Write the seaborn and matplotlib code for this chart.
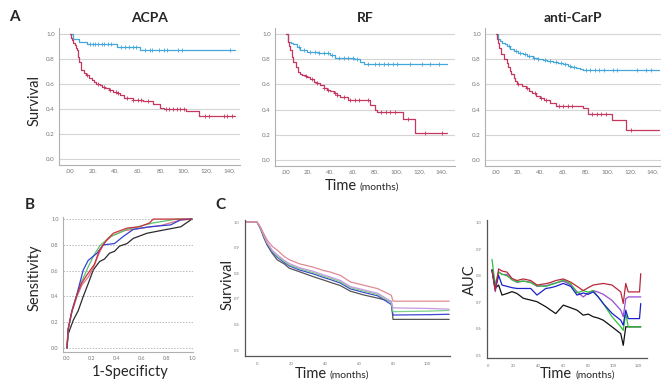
import numpy as np
import pandas as pd
import matplotlib.pyplot as plt
import seaborn as sns

# ---- Panel A: Kaplan-Meier curves (time in months, survival) ----
acpa_neg_t = [0, 3, 8, 15, 41, 61, 145]
acpa_neg_s = [1.0, 0.96, 0.935, 0.925, 0.90, 0.87, 0.87]
acpa_pos_t = [0, 1, 2, 3, 4, 5, 6, 7, 8, 10, 12, 14, 17, 19, 21, 23, 26, 28, 31, 34, 38, 41, 44, 47,
              55, 64, 73, 79, 82, 102, 113, 145]
acpa_pos_s = [1.0, 0.97, 0.95, 0.93, 0.91, 0.89, 0.87, 0.82, 0.78, 0.71, 0.69, 0.67, 0.645, 0.63,
              0.615, 0.60, 0.59, 0.575, 0.565, 0.55, 0.54, 0.53, 0.515, 0.49, 0.475, 0.465, 0.44,
              0.41, 0.40, 0.38, 0.34, 0.34]
acpa_neg_cens = [18, 20, 22, 25, 28, 30, 33, 36, 45, 48, 52, 55, 58, 66, 70, 72, 78, 82, 85, 95, 98, 140]
acpa_pos_cens = [15, 25, 30, 35, 40, 42, 50, 55, 60, 62, 68, 84, 87, 90, 94, 96, 100, 118, 122, 135, 138, 142]

rf_neg_t = [0, 2, 5, 7, 10, 13, 19, 30, 40, 44, 61, 67, 70, 145]
rf_neg_s = [1.0, 0.94, 0.93, 0.92, 0.895, 0.873, 0.855, 0.848, 0.838, 0.81, 0.80, 0.78, 0.762, 0.762]
rf_pos_t = [0, 2, 3, 4, 6, 7, 9, 11, 13, 15, 17, 19, 22, 25, 28, 31, 34, 37, 40, 43, 46, 49, 56, 70,
            76, 80, 82, 105, 116, 145]
rf_pos_s = [1.0, 0.94, 0.91, 0.873, 0.82, 0.78, 0.74, 0.70, 0.685, 0.675, 0.665, 0.656, 0.64, 0.62,
            0.61, 0.595, 0.575, 0.556, 0.545, 0.53, 0.515, 0.503, 0.48, 0.476, 0.437, 0.397, 0.384,
            0.323, 0.216, 0.216]
rf_neg_cens = [12, 16, 22, 26, 30, 34, 38, 42, 48, 52, 56, 60, 64, 74, 80, 84, 88, 92, 96, 100, 112, 122, 130, 138]
rf_pos_cens = [18, 24, 28, 34, 38, 44, 46, 52, 58, 62, 66, 74, 86, 90, 94, 98, 110, 125, 140]

cp_neg_t = [0, 2, 4, 6, 8, 10, 13, 16, 20, 24, 28, 33, 38, 42, 46, 51, 55, 60, 64, 67, 71, 75, 78, 145]
cp_neg_s = [1.0, 0.96, 0.945, 0.93, 0.92, 0.907, 0.885, 0.867, 0.853, 0.84, 0.828, 0.813, 0.803, 0.795,
            0.787, 0.779, 0.77, 0.76, 0.75, 0.739, 0.732, 0.725, 0.712, 0.712]
cp_pos_t = [0, 1, 2, 3, 5, 7, 10, 11, 13, 14, 16, 17, 19, 23, 27, 30, 32, 36, 39, 43, 48, 54, 69, 78,
            82, 103, 116, 145]
cp_pos_s = [1.0, 0.965, 0.933, 0.89, 0.84, 0.80, 0.773, 0.74, 0.707, 0.68, 0.653, 0.625, 0.60, 0.59,
            0.573, 0.55, 0.533, 0.51, 0.493, 0.475, 0.453, 0.432, 0.427, 0.413, 0.365, 0.315, 0.24, 0.24]
cp_neg_cens = [12, 18, 22, 26, 30, 34, 38, 44, 48, 54, 58, 62, 66, 70, 80, 84, 88, 92, 96, 104, 108, 126, 134, 138]
cp_pos_cens = [20, 28, 35, 40, 45, 56, 60, 64, 68, 86, 90, 94, 98, 120]

a_panels = [("ACPA", acpa_neg_t, acpa_neg_s, acpa_neg_cens, acpa_pos_t, acpa_pos_s, acpa_pos_cens),
            ("RF", rf_neg_t, rf_neg_s, rf_neg_cens, rf_pos_t, rf_pos_s, rf_pos_cens),
            ("anti-CarP", cp_neg_t, cp_neg_s, cp_neg_cens, cp_pos_t, cp_pos_s, cp_pos_cens)]
a_xticks = [0, 20, 40, 60, 80, 100, 120, 140]
a_xlabels = [".00", "20.", "40.", "60.", "80.", "100.", "120.", "140."]
a_yticks = [0.0, 0.2, 0.4, 0.6, 0.8, 1.0]

# ---- Panel B: ROC curves ----
roc_red_fpr = [0, 0.008, 0.035, 0.075, 0.115, 0.155, 0.22, 0.26, 0.32, 0.37, 0.48, 0.58, 0.66, 0.69, 1.0]
roc_red_tpr = [0, 0.14, 0.27, 0.40, 0.50, 0.56, 0.65, 0.76, 0.84, 0.89, 0.93, 0.94, 0.97, 1.0, 1.0]
roc_pink_fpr = [0, 0.01, 0.04, 0.08, 0.12, 0.17, 0.21, 0.25, 0.30, 0.36, 0.46, 0.60, 0.75, 0.90, 1.0]
roc_pink_tpr = [0, 0.15, 0.28, 0.40, 0.49, 0.55, 0.62, 0.72, 0.82, 0.87, 0.91, 0.93, 0.95, 0.99, 1.0]
roc_green_fpr = [0, 0.01, 0.04, 0.08, 0.115, 0.17, 0.21, 0.26, 0.34, 0.48, 0.69, 0.88, 1.0]
roc_green_tpr = [0, 0.15, 0.29, 0.41, 0.51, 0.63, 0.71, 0.79, 0.86, 0.92, 0.97, 1.0, 1.0]
roc_blue_fpr = [0, 0.01, 0.04, 0.08, 0.13, 0.17, 0.24, 0.29, 0.38, 0.45, 0.53, 0.66, 0.83, 0.91, 1.0]
roc_blue_tpr = [0, 0.15, 0.29, 0.42, 0.605, 0.68, 0.735, 0.80, 0.81, 0.865, 0.92, 0.94, 0.955, 0.995, 1.0]
roc_black_fpr = [0, 0.01, 0.05, 0.09, 0.13, 0.17, 0.21, 0.26, 0.30, 0.34, 0.38, 0.42, 0.48, 0.53, 0.64,
                 0.80, 0.91, 1.0]
roc_black_tpr = [0, 0.11, 0.215, 0.29, 0.40, 0.50, 0.605, 0.67, 0.69, 0.735, 0.75, 0.79, 0.81, 0.85,
                 0.89, 0.92, 0.94, 1.0]
b_ticks = [0.0, 0.2, 0.4, 0.6, 0.8, 1.0]

# ---- Panel C: predicted survival and time-dependent AUC ----
c_surv_t = [-7, 0, 2, 4, 6, 9, 12, 16, 19, 25, 33, 39, 43, 49, 55, 63, 71, 79, 80, 102, 102, 113]
c_surv_red = [1.0, 1.0, 0.982, 0.955, 0.93, 0.905, 0.89, 0.866, 0.853, 0.837, 0.824, 0.811, 0.805,
              0.792, 0.766, 0.753, 0.740, 0.714, 0.691, 0.691, 0.691, 0.691]
c_surv_violet = [1.0, 1.0, 0.98, 0.95, 0.92, 0.89, 0.872, 0.851, 0.838, 0.822, 0.808, 0.794, 0.786,
                 0.772, 0.748, 0.735, 0.722, 0.69, 0.665, 0.665, 0.66, 0.66]
c_surv_green = [1.0, 1.0, 0.978, 0.948, 0.918, 0.887, 0.866, 0.847, 0.833, 0.818, 0.803, 0.789, 0.781,
                0.767, 0.744, 0.730, 0.717, 0.685, 0.65, 0.65, 0.655, 0.655]
c_surv_blue = [1.0, 1.0, 0.977, 0.945, 0.915, 0.884, 0.862, 0.843, 0.829, 0.813, 0.798, 0.784, 0.776,
               0.762, 0.739, 0.725, 0.712, 0.678, 0.637, 0.637, 0.64, 0.64]
c_surv_black = [1.0, 1.0, 0.975, 0.94, 0.91, 0.878, 0.852, 0.837, 0.82, 0.806, 0.787, 0.774, 0.765,
                0.752, 0.730, 0.715, 0.703, 0.69, 0.62, 0.62, 0.62, 0.62]
c1_xticks = [0, 20, 40, 60, 80, 100]
c1_yticks = [0.5, 0.6, 0.7, 0.8, 0.9, 1.0]

auc_t = [3, 5.6, 8.3, 11, 15, 19, 23, 28, 34, 39, 46, 50, 54, 60, 66, 71, 76, 80, 84, 88, 92, 99, 106,
         108, 110, 112, 121, 122]
auc_black = [0.822, 0.753, 0.765, 0.727, 0.733, 0.74, 0.733, 0.715, 0.708, 0.702, 0.683, 0.67, 0.657,
             0.689, 0.679, 0.670, 0.651, 0.655, 0.645, 0.64, 0.632, 0.607, 0.581, 0.537, 0.607,
             0.607, 0.607, 0.607]
auc_red = [0.822, 0.745, 0.826, 0.818, 0.814, 0.79, 0.782, 0.788, 0.782, 0.765, 0.770, 0.775, 0.782,
           0.788, 0.776, 0.760, 0.744, 0.755, 0.765, 0.768, 0.771, 0.765, 0.739, 0.695, 0.771, 0.739,
           0.739, 0.808]
auc_violet = [0.822, 0.74, 0.815, 0.805, 0.805, 0.785, 0.775, 0.780, 0.776, 0.760, 0.762, 0.768, 0.773,
              0.780, 0.765, 0.740, 0.720, 0.735, 0.744, 0.738, 0.730, 0.707, 0.670, 0.645, 0.713,
              0.720, 0.720, 0.720]
auc_green = [0.862, 0.765, 0.814, 0.806, 0.800, 0.785, 0.777, 0.780, 0.774, 0.762, 0.760, 0.766, 0.772,
             0.784, 0.770, 0.735, 0.744, 0.738, 0.744, 0.72, 0.695, 0.645, 0.607, 0.594, 0.658, 0.607,
             0.607, 0.607]
auc_blue = [0.822, 0.75, 0.801, 0.765, 0.760, 0.755, 0.752, 0.752, 0.752, 0.727, 0.752, 0.755, 0.760,
            0.771, 0.760, 0.727, 0.735, 0.73, 0.739, 0.72, 0.695, 0.658, 0.632, 0.613, 0.670, 0.638,
            0.638, 0.695]
c2_xticks = [0, 20, 40, 60, 80, 100, 120]
c2_yticks = [0.5, 0.6, 0.7, 0.8, 0.9, 1.0]

sns.set_theme(style="white")
plt.rcParams["font.family"] = ["Lato", "DejaVu Sans"]

fig = plt.figure(figsize=(6.61, 3.82), dpi=100)


def box(l, t, r, b):
    # pixel box of the 661x382 canvas -> figure fraction rect
    return [l / 661, 1 - b / 382, (r - l) / 661, (b - t) / 382]


def step_at(t, s, c):
    idx = np.searchsorted(t, c, side="right") - 1
    return np.asarray(s)[idx]


blue_col = "#45a6da"
red_col = "#c4375f"
tick_col = "#777777"

# Panel A
a_boxes = [(59, 28, 240, 165), (275, 28, 455, 166), (485, 28, 661, 166)]
a_xlims = [(-9.6, 149), (-9.6, 152), (-9.5, 147)]
for (title, nt, ns, nc, pt, ps, pc), bx, xl in zip(a_panels, a_boxes, a_xlims):
    ax = fig.add_axes(box(*bx))
    for tt, ss, cc, col in [(nt, ns, nc, blue_col), (pt, ps, pc, red_col)]:
        sns.lineplot(x=tt, y=ss, ax=ax, color=col, lw=0.9, drawstyle="steps-post")
        ax.scatter(cc, step_at(tt, ss, cc), marker="+", s=9, lw=0.6, color=col, zorder=3)
    ax.set_xlim(*xl)
    ax.set_ylim(-0.05, 1.05)
    ax.set_yticks(a_yticks)
    ax.set_yticklabels([f"{v:.1f}" for v in a_yticks])
    ax.set_xticks(a_xticks)
    ax.set_xticklabels(a_xlabels)
    ax.yaxis.grid(True, color="#d4d4d4", lw=0.8)
    ax.tick_params(labelsize=4.5, colors=tick_col, length=0, pad=3)
    for sp in ["top", "right"]:
        ax.spines[sp].set_visible(False)
    for sp in ["left", "bottom"]:
        ax.spines[sp].set_color("#b0b0b0")
        ax.spines[sp].set_linewidth(0.8)
    ax.set_xlabel("")
    ax.set_ylabel("")
    ax.set_title(title, fontsize=10, fontweight="bold", pad=4)

fig.text(35 / 661, 1 - 100 / 382, "Survival", rotation=90, ha="center", va="center", fontsize=10.5)
fig.text(357 / 661, 1 - 186 / 382, "Time", ha="right", va="center", fontsize=10.5)
fig.text(360 / 661, 1 - 187 / 382, "(months)", ha="left", va="center", fontsize=7.5)
fig.text(14 / 661, 1 - 17 / 382, "A", ha="center", va="center", fontsize=11, fontweight="bold")

# Panel B
axb = fig.add_axes(box(63, 217, 193, 352))
roc = [(roc_black_fpr, roc_black_tpr, "#2a2a2a"), (roc_pink_fpr, roc_pink_tpr, "#e0708a"),
       (roc_green_fpr, roc_green_tpr, "#5cc46a"), (roc_blue_fpr, roc_blue_tpr, "#3341d6"),
       (roc_red_fpr, roc_red_tpr, "#c8323c")]
for fx, fy, col in roc:
    sns.lineplot(x=fx, y=fy, ax=axb, color=col, lw=0.9, sort=False)
axb.set_xlim(-0.032, 1.008)
axb.set_ylim(-0.031, 1.016)
axb.set_xticks(b_ticks)
axb.set_yticks(b_ticks)
axb.set_xticklabels([f"{v:.1f}" for v in b_ticks])
axb.set_yticklabels([f"{v:.1f}" for v in b_ticks])
axb.yaxis.grid(True, color="#b8b8b8", lw=0.7, ls=(0, (1.5, 1.5)))
axb.tick_params(labelsize=4, colors=tick_col, length=0, pad=3)
for sp in ["top", "right"]:
    axb.spines[sp].set_visible(False)
for sp in ["left", "bottom"]:
    axb.spines[sp].set_color("#b0b0b0")
    axb.spines[sp].set_linewidth(0.8)
fig.text(35 / 661, 1 - 278 / 382, "Sensitivity", rotation=90, ha="center", va="center", fontsize=10.5)
fig.text(130 / 661, 1 - 372 / 382, "1-Specificty", ha="center", va="center", fontsize=10.5)
fig.text(30 / 661, 1 - 205 / 382, "B", ha="center", va="center", fontsize=11, fontweight="bold")

# Panel C left: survival
axc = fig.add_axes(box(245, 220, 450, 356))
c_lines = [(c_surv_black, "#555555"), (c_surv_blue, "#3a48d0"), (c_surv_green, "#7ed08a"),
           (c_surv_violet, "#c69ae0"), (c_surv_red, "#e08a96")]
for ss, col in c_lines:
    sns.lineplot(x=c_surv_t, y=ss, ax=axc, color=col, lw=0.9, sort=False)
axc.set_xlim(-7, 113.5)
axc.set_ylim(0.477, 1.008)
axc.set_xticks(c1_xticks)
axc.set_yticks(c1_yticks)
axc.set_xticklabels([str(v) for v in c1_xticks])
axc.set_yticklabels([f"{v:.1f}" for v in c1_yticks])
axc.tick_params(labelsize=3, colors=tick_col, length=0, pad=4)
for sp in ["top", "right"]:
    axc.spines[sp].set_visible(False)
for sp in ["left", "bottom"]:
    axc.spines[sp].set_color("#555555")
    axc.spines[sp].set_linewidth(0.9)
fig.text(228 / 661, 1 - 285 / 382, "Survival", rotation=90, ha="center", va="center", fontsize=10.5)
fig.text(327 / 661, 1 - 374 / 382, "Time", ha="right", va="center", fontsize=10.5)
fig.text(330 / 661, 1 - 375 / 382, "(months)", ha="left", va="center", fontsize=7.5)
fig.text(220 / 661, 1 - 205 / 382, "C", ha="center", va="center", fontsize=11, fontweight="bold")

# Panel C right: AUC
axa = fig.add_axes(box(487, 220, 647, 358))
auc_lines = [(auc_black, "#111111"), (auc_violet, "#9a4ad0"), (auc_green, "#2fc23a"),
             (auc_blue, "#1c22c8"), (auc_red, "#b8283a")]
for ss, col in auc_lines:
    sns.lineplot(x=auc_t, y=ss, ax=axa, color=col, lw=0.9, sort=False)
axa.set_xlim(-1, 127)
axa.set_ylim(0.489, 1.011)
axa.set_xticks(c2_xticks)
axa.set_yticks(c2_yticks)
axa.set_xticklabels([str(v) for v in c2_xticks])
axa.set_yticklabels([f"{v:.1f}" for v in c2_yticks])
axa.tick_params(labelsize=3, colors=tick_col, length=0, pad=4)
for sp in ["top", "right"]:
    axa.spines[sp].set_visible(False)
for sp in ["left", "bottom"]:
    axa.spines[sp].set_color("#555555")
    axa.spines[sp].set_linewidth(0.9)
fig.text(470 / 661, 1 - 280 / 382, "AUC", rotation=90, ha="center", va="center", fontsize=10.5)
fig.text(572 / 661, 1 - 374 / 382, "Time", ha="right", va="center", fontsize=10.5)
fig.text(575 / 661, 1 - 375 / 382, "(months)", ha="left", va="center", fontsize=7.5)

fig.savefig("out.png", dpi=100, facecolor="white")
